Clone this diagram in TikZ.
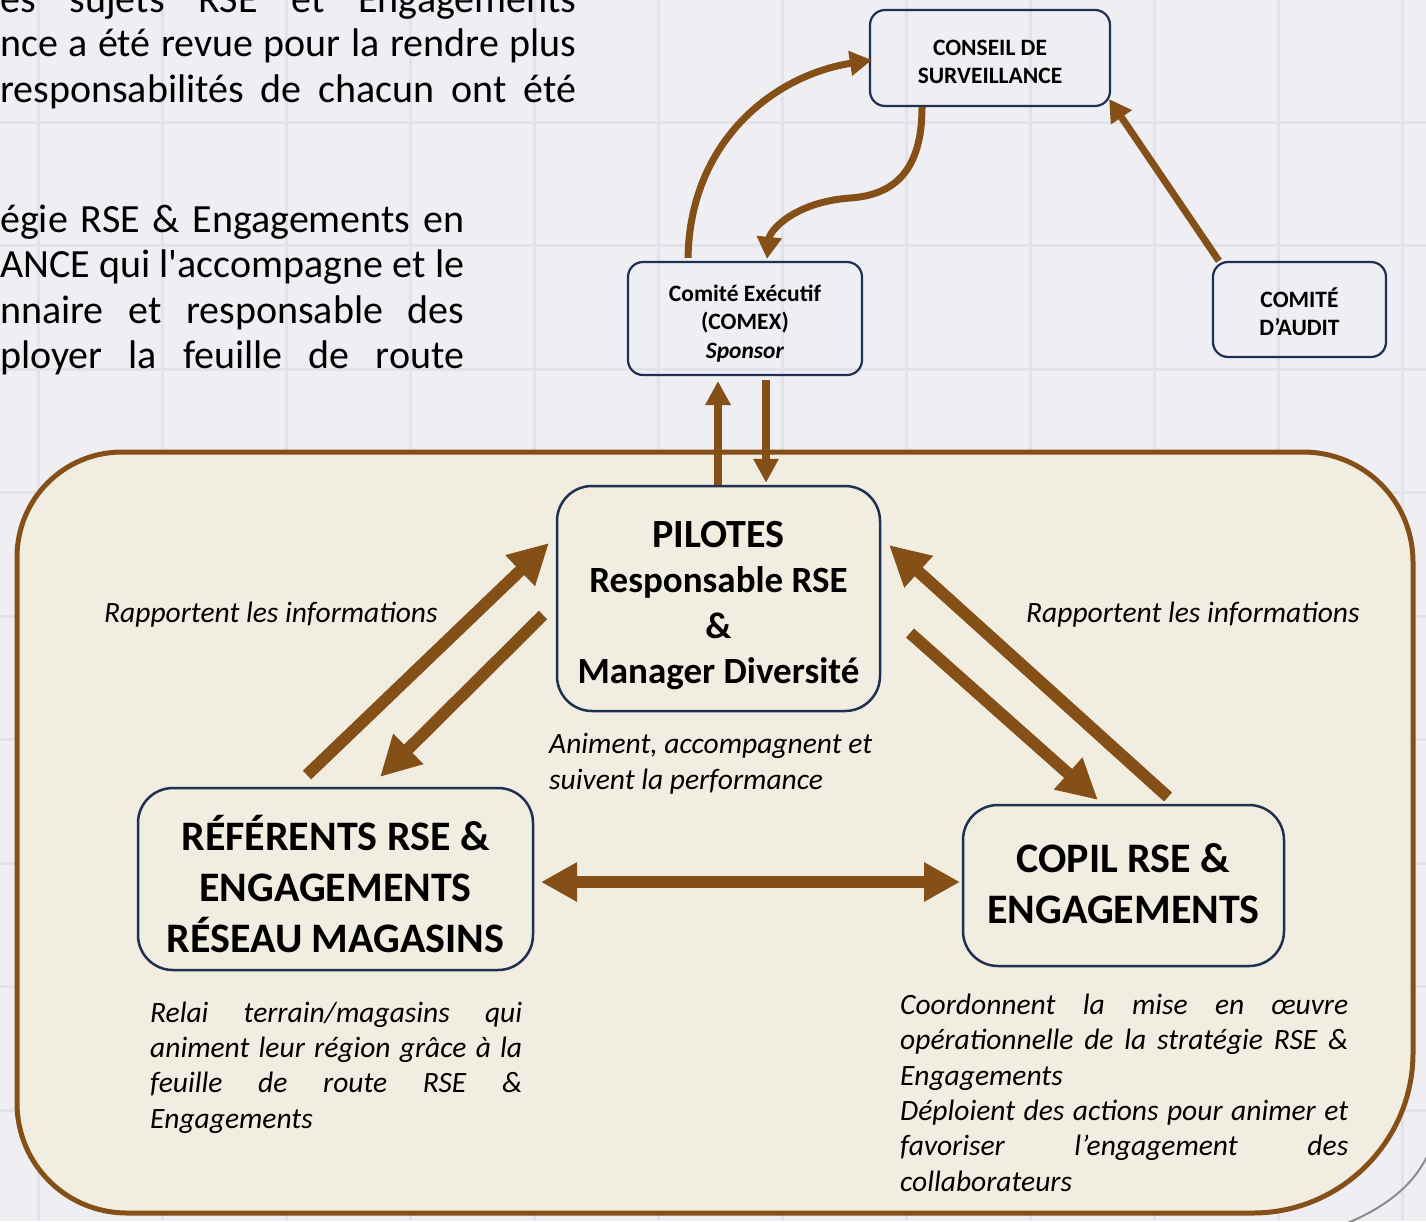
\documentclass[tikz,border=0pt]{standalone}
\usepackage{fontspec}
\setmainfont{Carlito}
\usetikzlibrary{arrows.meta,calc}
\definecolor{brn}{HTML}{845018}
\definecolor{navy}{HTML}{1F3050}
\definecolor{cream}{HTML}{F1EDE0}
\definecolor{bgc}{HTML}{EFEEF3}
\definecolor{gridc}{HTML}{E3E2E8}
\definecolor{shadowc}{HTML}{8C8C8C}
\begin{document}
\begin{tikzpicture}[x=1pt,y=-1pt,
  topbox/.style={draw=navy, line width=2.2pt, rounded corners=15pt, inner sep=0pt},
  toptext/.style={align=center, inner sep=0pt, font=\bfseries\fontsize{23.5}{28.5}\selectfont},
  mainbox/.style={draw=navy, line width=2.5pt, rounded corners=35pt, fill=cream, inner sep=0pt},
  maintext/.style={align=center, inner sep=0pt, font=\bfseries\fontsize{42}{51}\selectfont},
  desc/.style={inner sep=0pt, align=left, anchor=base west, font=\itshape\fontsize{29.5}{35.3}\selectfont},
  para/.style={inner sep=0pt, anchor=base west, font=\fontsize{40}{45.5}\selectfont},
  fatarrow/.style={brn, line width=12pt, -{Triangle[width=40pt,length=40pt]}},
  twoway/.style={brn, line width=12pt, {Triangle[width=37pt,length=36pt]}-{Triangle[width=37pt,length=36pt]}},
  vertarrow/.style={brn, line width=8pt, -{Triangle[width=24pt,length=24pt]}},
  curvearrow/.style={brn, line width=7pt, -{Triangle[width=24pt,length=22pt]}}
]
\useasboundingbox (0,0) rectangle (1426,1221);
\clip (0,0) rectangle (1426,1221);
% background and grid
\fill[bgc] (0,0) rectangle (1426,1221);
\foreach \gx in {38,162,286,410,534,658,782,906,1030,1154,1278,1402}
  \draw[gridc, line width=3pt] (\gx,0) -- (\gx,1221);
\foreach \gy in {122,245.5,369,492.5,616,739.5,863,986.5,1110}
  \draw[gridc, line width=3pt] (0,\gy) -- (1426,\gy);

% intro paragraph fragments
\node[para] (p1) at (0,12) {\makebox[576pt][s]{es sujets RSE et Engagements}};
\node[para] (p2) at (0,56) {\makebox[576pt][s]{nce a été revue pour la rendre plus}};
\node[para] (p3) at (0,102) {\makebox[576pt][s]{responsabilités de chacun ont été}};
\node[para] (p4) at (0,232) {\makebox[464pt][s]{égie RSE \& Engagements en}};
\node[para] (p5) at (0,277) {\makebox[464pt][s]{ANCE qui l\textquotesingle accompagne et le}};
\node[para] (p6) at (0,323) {\makebox[464pt][s]{nnaire et responsable des}};
\node[para] (p7) at (0,368) {\makebox[464pt][s]{ployer la feuille de route}};

% shadow curve
\draw[shadowc, line width=2pt] (1432,1146) .. controls (1417,1182) and (1390,1208) .. (1330,1230);
% container
\draw[brn, line width=5pt, fill=cream]
  (17,557) .. controls (17,499) and (64,452) .. (122,452)
  -- (1303,452) .. controls (1364,452) and (1413,501) .. (1413,562)
  -- (1413,1053) .. controls (1413,1141) and (1341,1213) .. (1253,1213)
  -- (127,1213) .. controls (66,1213) and (17,1164) .. (17,1103) -- cycle;

% top boxes
\node[topbox, minimum width=240pt, minimum height=96pt] (cons) at (990,58) {};
\node[toptext] (const) at ([yshift=-4pt]cons.center) {CONSEIL DE\\SURVEILLANCE};
\node[topbox, minimum width=234pt, minimum height=113pt] (comex) at (745,318.5) {};
\node[toptext] (comext) at ([yshift=-5pt]comex.center) {Comité Exécutif\\(COMEX)\\\textit{Sponsor}};
\node[topbox, minimum width=173pt, minimum height=95pt] (aud) at (1299.5,309.5) {};
\node[toptext] (audt) at ([yshift=-2pt]aud.center) {COMITÉ\\D’AUDIT};

% main boxes
\node[mainbox, minimum width=323pt, minimum height=225pt] (pil) at (718.5,598.5) {};
\node[maintext, font=\bfseries\fontsize{37}{45.5}\selectfont] (pilt) at ([yshift=-7pt]pil.center)
  {{\fontsize{40}{45.5}\selectfont PILOTES}\\Responsable RSE\\\&\\Manager Diversité};
\node[mainbox, minimum width=395pt, minimum height=182pt] (ref) at (335.5,879) {};
\node[maintext] (reft) at ([yshift=-5pt]ref.center) {RÉFÉRENTS RSE \&\\ENGAGEMENTS\\RÉSEAU MAGASINS};
\node[mainbox, minimum width=321pt, minimum height=161pt] (copil) at (1123.5,885.5) {};
\node[maintext] (copilt) at ([yshift=1.5pt]copil.center) {COPIL RSE \&\\ENGAGEMENTS};

% labels
\node[desc] (lab1) at (104,622) {Rapportent les informations};
\node[desc] (lab2) at (1026,622) {Rapportent les informations};
\node[desc] (lab3) at (549,789) {Animent, accompagnent et\\suivent la performance};
\node[desc] (lab4) at (150,1128) {\makebox[372pt][s]{Relai terrain/magasins qui}\\\makebox[372pt][s]{animent leur région grâce à la}\\\makebox[372pt][s]{feuille de route RSE \&}\\Engagements};
\node[desc] (lab5) at (900,1191) {\makebox[448pt][s]{Coordonnent la mise en œuvre}\\\makebox[448pt][s]{opérationnelle de la stratégie RSE \&}\\Engagements\\\makebox[448pt][s]{Déploient des actions pour animer et}\\\makebox[448pt][s]{favoriser l’engagement des}\\collaborateurs};

% connector end points
\coordinate (cxa) at ([xshift=-57pt,yshift=3pt]comex.north);
\coordinate (csa) at ([xshift=3pt,yshift=-2pt]cons.west);
\coordinate (csb) at ([xshift=-68pt]cons.south);
\coordinate (cxb) at ([xshift=22pt,yshift=2pt]comex.north);
\coordinate (aua) at ([xshift=7pt]aud.north west);
\coordinate (csc) at ([xshift=-2pt,yshift=8pt]cons.south east);
\coordinate (pu1) at ([xshift=-0.5pt]pil.north);
\coordinate (cu1) at (718,381);
\coordinate (cu2) at (766,380);
\coordinate (pu2) at ([xshift=47.5pt,yshift=2pt]pil.north);
\coordinate (ra) at (307,775);
\coordinate (pa) at (549,543);
\coordinate (pb) at (543,615);
\coordinate (rb) at (380,777);
\coordinate (pc) at (910,633);
\coordinate (cc) at (1098,800);
\coordinate (cd) at (1168,797);
\coordinate (pd) at (889,545);
\coordinate (rh) at (541,882);
\coordinate (ch) at (960,882);

% connectors
\draw[curvearrow] (cxa) .. controls (690,140) and (775,75) .. (csa);
\draw[curvearrow] (csb) .. controls (922,170) and (895,195) .. (850,198) .. controls (795,202) and (770,230) .. (cxb);
\draw[curvearrow] (aua) -- (csc);
\draw[vertarrow] (pu1) -- (cu1);
\draw[vertarrow] (cu2) -- (pu2);
\draw[fatarrow] (ra) -- (pa);
\draw[fatarrow] (pb) -- (rb);
\draw[fatarrow] (pc) -- (cc);
\draw[fatarrow] (cd) -- (pd);
\draw[twoway] (rh) -- (ch);
\end{tikzpicture}
\end{document}
